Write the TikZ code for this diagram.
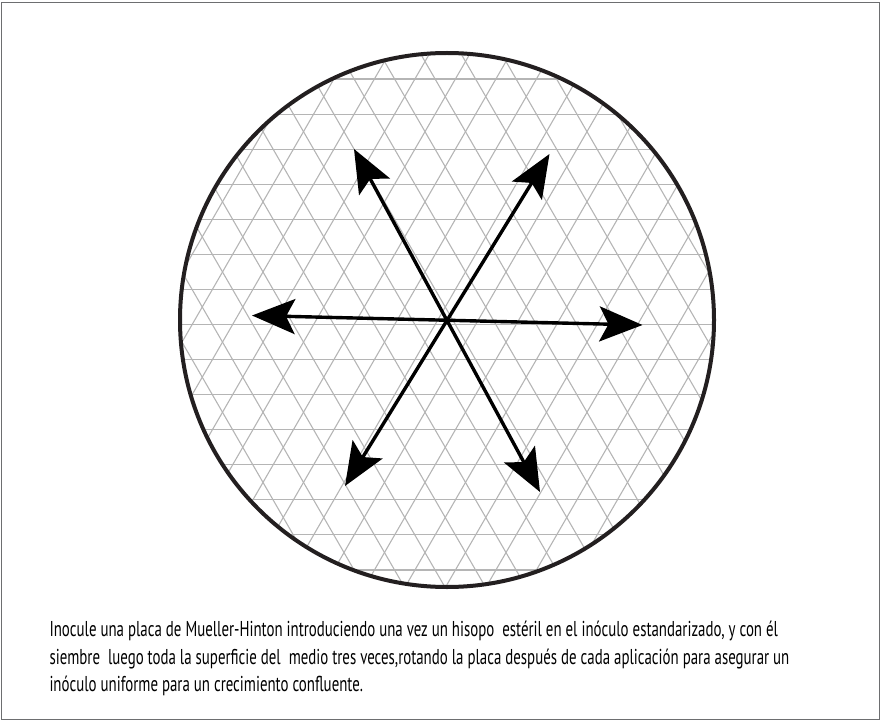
\documentclass[tikz,border=0pt]{standalone}
\usepackage{graphicx}
\usepackage{fontspec}
\newfontfamily\capfont{PT Sans}
\usetikzlibrary{arrows.meta}
\definecolor{gridgray}{HTML}{B5B5B5}
\definecolor{rim}{HTML}{231F20}
\definecolor{framegray}{HTML}{6D6E70}
\newsavebox\lineAbox
\newsavebox\lineBbox
\newsavebox\lineCbox
\begin{document}
\sbox\lineAbox{\capfont\fontsize{21.5}{24}\selectfont Inocule una placa de Mueller-Hinton introduciendo una vez un hisopo\ \ estéril en el inóculo estandarizado, y con él}%
\sbox\lineBbox{\capfont\fontsize{21.5}{24}\selectfont siembre\ \ luego toda la superficie del\ \ medio tres veces,rotando la placa después de cada aplicación para asegurar un}%
\sbox\lineCbox{\capfont\fontsize{21.5}{24}\selectfont inóculo uniforme para un crecimiento confluente.}%
\pgfmathsetmacro\sx{728.5/\the\wd\lineAbox}%
\begin{tikzpicture}[x=1pt,y=-1pt,
  gridline/.style={draw=gridgray,line width=1.1pt},
  rimline/.style={draw=rim,line width=4pt},
  framebox/.style={draw=framegray,line width=1.5pt},
  dblarrow/.style={draw=black,line width=3.4pt,
    {Stealth[length=43pt,width=35pt,inset=9pt]}-{Stealth[length=43pt,width=35pt,inset=9pt]}},
  captext/.style={anchor=base west,inner sep=0pt,outer sep=0pt}]
\useasboundingbox (0,0) rectangle (881,722);
\draw[framebox] (1.5,2.5) rectangle (879.5,719.5);
\coordinate (c) at (447,320);
\begin{scope}
  \clip (c) circle[radius=267];
  \foreach \k in {0,...,14}
    \draw[gridline] (150,{79+35.07*\k}) -- (750,{79+35.07*\k});
  \foreach \m in {-16,...,16} {
    \draw[gridline] ({425+40.5*\m+(30-61.5)*0.57735},30) -- ({425+40.5*\m+(610-61.5)*0.57735},610);
    \draw[gridline] ({425+40.5*\m-(30-61.5)*0.57735},30) -- ({425+40.5*\m-(610-61.5)*0.57735},610);
  }
\end{scope}
\draw[rimline] (c) circle[radius=267];
\coordinate (l) at (252,315.5);
\coordinate (r) at (642.5,325);
\coordinate (ul) at (354,149);
\coordinate (lr) at (540,492);
\coordinate (ur) at (549.5,154);
\coordinate (ll) at (345,486);
\draw[dblarrow] (l) -- (r);
\draw[dblarrow] (ul) -- (lr);
\draw[dblarrow] (ur) -- (ll);
\node[captext] (t1) at (49.5,636.5) {\scalebox{\sx}[1]{\usebox\lineAbox}};
\node[captext] (t2) at (49.5,664) {\scalebox{\sx}[1]{\usebox\lineBbox}};
\node[captext] (t3) at (49.5,691.5) {\scalebox{\sx}[1]{\usebox\lineCbox}};
\end{tikzpicture}
\end{document}
